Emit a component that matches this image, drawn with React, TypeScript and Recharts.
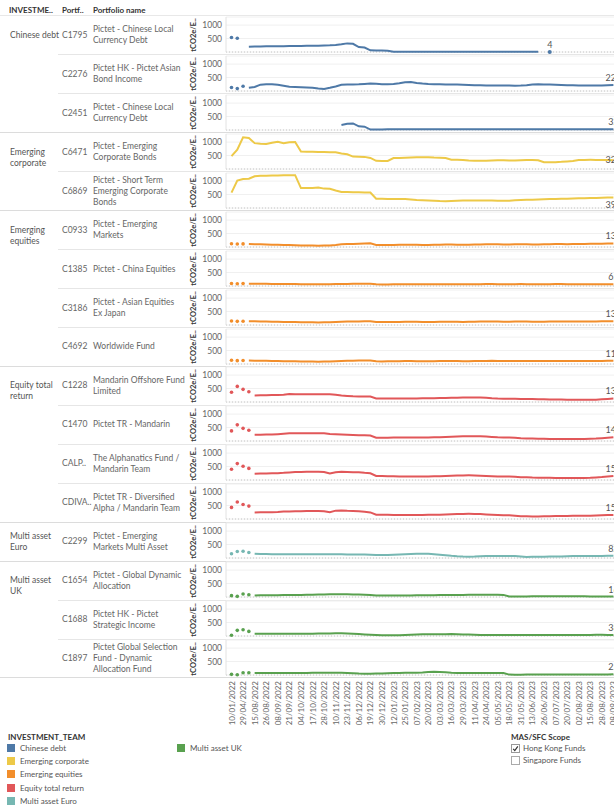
import React from 'react';
import { LineChart, Line, XAxis, YAxis, CartesianGrid, ReferenceLine } from 'recharts';

const tickDates = ['10/01/2022','29/04/2022','15/08/2022','26/08/2022','08/09/2022','21/09/2022','04/10/2022','17/10/2022','28/10/2022','10/11/2022','23/11/2022','06/12/2022','19/12/2022','30/12/2022','12/01/2023','25/01/2023','07/02/2023','20/02/2023','03/03/2023','16/03/2023','29/03/2023','11/04/2023','24/04/2023','05/05/2023','18/05/2023','31/05/2023','13/06/2023','26/06/2023','07/07/2023','20/07/2023','02/08/2023','15/08/2023','28/08/2023','08/09/2023'];
const midDates = ['10/03/2022','22/06/2022','20/08/2022','01/09/2022','14/09/2022','27/09/2022','10/10/2022','21/10/2022','03/11/2022','16/11/2022','29/11/2022','12/12/2022','23/12/2022','05/01/2023','18/01/2023','31/01/2023','13/02/2023','24/02/2023','09/03/2023','22/03/2023','04/04/2023','17/04/2023','28/04/2023','11/05/2023','24/05/2023','06/06/2023','19/06/2023','30/06/2023','13/07/2023','26/07/2023','08/08/2023','21/08/2023','01/09/2023'];

const teams = ['Chinese debt','Emerging corporate','Emerging equities','Equity total return','Multi asset Euro','Multi asset UK'];
const teamHeaders = ['Chinese debt','Emerging\ncorporate','Emerging\nequities','Equity total\nreturn','Multi asset\nEuro','Multi asset\nUK'];
const teamColors = ['#4e79a7','#edc948','#f28e2b','#e15759','#76b7b2','#59a14f'];
const portfolioCodes = ['C1795','C2276','C2451','C6471','C6869','C0933','C1385','C3186','C4692','C1228','C1470','CALP..','CDIVA..','C2299','C1654','C1688','C1897'];
const portfolioNames = [
  'Pictet - Chinese Local\nCurrency Debt',
  'Pictet HK - Pictet Asian\nBond Income',
  'Pictet - Chinese Local\nCurrency Debt',
  'Pictet - Emerging\nCorporate Bonds',
  'Pictet - Short Term\nEmerging Corporate\nBonds',
  'Pictet - Emerging\nMarkets',
  'Pictet - China Equities',
  'Pictet - Asian Equities\nEx Japan',
  'Worldwide Fund',
  'Mandarin Offshore Fund\nLimited',
  'Pictet TR - Mandarin',
  'The Alphanatics Fund /\nMandarin Team',
  'Pictet TR - Diversified\nAlpha / Mandarin Team',
  'Pictet - Emerging\nMarkets Multi Asset',
  'Pictet - Global Dynamic\nAllocation',
  'Pictet HK - Pictet\nStrategic Income',
  'Pictet Global Selection\nFund - Dynamic\nAllocation Fund',
];
const portfolioTeam = [0,0,0,1,1,2,2,2,2,3,3,3,3,4,5,5,5];
const lineStart = [3,3,0,0,0,3,3,3,3,4,4,4,4,4,4,4,4];

const c1795 = [540,510,null,195,205,207,210,212,215,218, 220,222,225,228,232,236,240,248,262,285, 320,305,185,165,62,58,55,50,10,10, 11,10,9,10,11,10,10,9,10,10, 11,10,10,9,10,10,11,10,10,9, 10,10,10,9,null,4,null,null,null,null, null,null,null,null,null,null,null];
const c2276 = [130,90,175,120,150,235,255,250,230,195, 160,150,142,130,118,90,78,120,170,230, 240,245,250,262,275,265,255,250,260,290, 325,335,300,275,262,255,250,246,242,240, 232,225,218,210,202,200,200,202,200,198, 200,210,240,250,245,238,230,225,218,212, 206,202,200,202,206,212,222];
const c2451 = [null,null,null,null,null,null,null,null,null,null, null,null,null,null,null,null,null,null,null,185, 230,245,135,125,15,18,22,30,30,28, 30,31,29,28,30,32,31,30,29,28, 27,28,30,31,30,29,28,27,26,28, 30,31,30,29,28,29,30,31,32,31, 30,31,30,29,30,31,32];
const c6471 = [480,720,1180,1150,960,935,930,975,1010,960, 990,1000,650,640,638,635,630,625,620,575, 545,460,455,450,410,305,300,300,405,412, 420,428,435,440,435,425,420,410,345,340, 330,315,305,305,310,318,325,322,320,320, 325,330,330,325,250,250,255,265,280,295, 335,338,340,338,335,332,328];
const c6869 = [570,1020,1080,1090,1180,1200,1200,1205,1210,1212, 1215,1220,740,740,745,760,720,712,650,595, 590,588,585,580,575,345,340,338,335,335, 330,320,300,290,282,270,258,255,260,268, 275,278,280,280,280,278,272,266,270,285, 300,305,310,318,325,330,335,340,348,352, 358,364,370,376,382,388,392];
const c0933 = [120,110,115,112,105,100,95,88,82,75, 70,62,58,55,52,50,52,55,75,100, 108,112,118,128,135,75,70,72,75,80, 84,86,82,78,76,80,86,90,90,86, 82,86,92,96,100,104,100,96,96,100, 104,100,96,96,100,105,110,110,106,110, 115,116,120,122,125,127,132];
const c1385 = [95,85,90,88,85,82,80,78,76,74, 72,70,68,66,64,62,62,64,70,76, 78,80,82,84,86,62,60,60,62,64, 66,66,64,62,62,64,66,68,68,66, 64,64,66,68,70,70,68,66,66,68, 70,68,66,66,66,68,70,70,68,66, 66,64,64,64,65,65,65];
const c3186 = [150,135,140,138,135,132,128,124,120,116, 112,108,104,100,98,96,98,102,112,122, 126,130,134,138,142,112,108,110,112,116, 120,122,118,114,112,116,120,124,124,120, 116,118,122,126,128,130,126,122,122,126, 128,126,122,122,124,126,130,130,128,130, 132,132,134,134,135,135,136];
const c4692 = [140,125,130,128,125,122,118,114,110,106, 102,98,95,92,90,88,90,94,104,114, 118,122,126,130,134,100,96,98,100,104, 108,110,106,102,100,104,108,112,112,108, 104,106,110,114,116,118,114,110,110,114, 116,114,110,110,112,114,116,116,114,114, 115,115,116,116,116,117,117];
const c1228 = [360,580,470,380,245,248,252,256,262,272, 295,292,290,290,292,290,288,286,272,240, 225,212,205,202,200,130,130,128,128,130, 130,132,134,136,138,140,145,150,156,162, 168,170,170,165,155,140,130,125,120,118, 116,112,108,104,100,96,92,90,88,85, 82,80,82,88,100,115,132];
const c1470 = [375,600,470,400,232,236,240,245,255,268, 285,290,290,290,290,290,288,262,255,240, 228,220,215,210,205,120,122,124,126,128, 130,130,130,130,132,135,140,148,156,165, 172,178,180,175,165,150,135,130,128,118, 100,95,90,85,80,75,72,70,70,70, 72,74,80,90,105,122,142];
const cAlp = [400,610,510,430,232,238,244,250,255,265, 280,295,300,302,305,302,298,245,290,310, 300,292,285,265,250,150,145,140,135,132, 130,130,130,132,134,136,140,148,156,165, 170,172,170,162,150,140,132,130,128,120, 105,98,90,88,85,80,75,72,70,70, 72,75,82,95,110,130,150];
const cDiva = [430,630,540,480,245,248,250,252,260,280, 282,286,290,295,300,300,290,250,310,320, 305,300,290,270,245,160,158,155,152,150, 150,150,150,152,155,158,162,170,178,185, 190,192,190,182,170,158,148,140,138,125, 105,98,95,95,98,102,108,112,115,118, 120,122,125,130,138,145,152];
const c2299 = [160,240,250,205,160,150,145,142,140,138, 136,135,135,135,136,136,135,135,135,135, 134,133,132,128,120,110,108,115,125,132, 140,148,155,160,158,140,120,100,80,65, 55,50,55,65,72,75,75,75,72,70, 55,40,42,48,50,52,55,60,65,70, 72,75,76,78,78,80,82];
const c1654 = [50,25,110,85,60,62,64,66,68,70, 72,74,78,82,86,90,94,98,100,100, 98,95,90,85,75,60,55,55,55,56, 58,60,62,64,66,68,70,72,74,76, 78,80,80,80,80,80,80,78,22,20, 20,22,24,25,26,27,28,28,28,27, 26,25,22,20,18,17,16];
const c1688 = [30,210,230,170,85,85,85,85,86,86, 86,86,86,87,88,90,92,95,100,98, 90,80,70,60,50,40,30,25,25,30, 40,50,60,62,62,64,66,68,70,66, 60,52,45,40,36,35,35,35,35,35, 35,35,35,34,34,34,34,34,34,35, 36,38,40,42,42,40,38];
const c1897 = [25,10,85,85,75,75,76,76,76,76, 76,76,77,78,80,82,84,85,85,82, 75,65,55,50,50,55,60,65,70,75, 80,85,88,95,110,120,115,100,85,78, 75,75,75,75,75,75,75,72,15,12, 12,14,15,16,18,18,20,20,20,20, 20,20,21,22,22,23,25];

const seriesValues: (number | null)[][] = [c1795,c2276,c2451,c6471,c6869,c0933,c1385,c3186,c4692,c1228,c1470,cAlp,cDiva,c2299,c1654,c1688,c1897];
const yTicks = [500, 1000];

// ---- layout ----
const FONT = "Lato, 'Open Sans', sans-serif";
const ROW_TOP = 16;
const ROW_H = 38.94;
const CH_LEFT = 185;
const CH_W = 455;
const AXIS_W = 41;
const PAD = { left: 5.5, right: 26.6 };
const labelDy = [-4,-4,-4,3,11,-4,-4,-4,-4,-4,-4,-4,-4,-4,-4,-4,-4];

const dates: string[] = [];
tickDates.forEach((d, k) => { dates.push(d); if (k < midDates.length) dates.push(midDates[k]); });

const table = dates.map((date, i) => {
  const row: any = { date };
  seriesValues.forEach((vals, s) => {
    const v = vals[i] ?? null;
    row['e' + s] = i < lineStart[s] ? v : null;
    row['s' + s] = i >= lineStart[s] ? v : null;
  });
  return row;
});

const mainVals = seriesValues.map((_, s) => table.map((r) => r['s' + s] as number | null));
const lastIdx = mainVals.map((vals) => { let l = -1; vals.forEach((v, i) => { if (v != null) l = i; }); return l; });

const makeMainDot = (s: number) => (p: any) => {
  const { cx, cy, index } = p;
  const key = `m${s}-${index}`;
  const vals = mainVals[s];
  const v = vals[index];
  if (v == null || cx == null || cy == null) return <g key={key} />;
  const isolated = (index === 0 || vals[index - 1] == null) && (index === vals.length - 1 || vals[index + 1] == null);
  const isLast = index === lastIdx[s];
  return (
    <g key={key}>
      {isolated && <circle cx={cx} cy={cy} r={2} fill={teamColors[portfolioTeam[s]]} />}
      {isLast && (
        <text x={cx} y={cy + labelDy[s]} textAnchor="middle" fontSize={9} fill="#555" fontFamily={FONT}>{v}</text>
      )}
    </g>
  );
};

const makeEarlyDot = (s: number) => (p: any) => {
  const { cx, cy, index } = p;
  const key = `e${s}-${index}`;
  const v = table[index]?.['e' + s];
  if (v == null || cx == null || cy == null) return <g key={key} />;
  return <circle key={key} cx={cx} cy={cy} r={1.8} fill={teamColors[portfolioTeam[s]]} />;
};

const DateTick = (p: any) => {
  const x = p.x;
  const y = p.y + 1;
  return (
    <text x={x} y={y} transform={`rotate(-90 ${x} ${y})`} textAnchor="end" dominantBaseline="central" fontSize={8} fill="#666" fontFamily={FONT}>
      {p.payload.value}
    </text>
  );
};

const groupStarts = teams.map((_, t) => portfolioTeam.indexOf(t));
const groupCounts = teams.map((_, t) => portfolioTeam.filter((x) => x === t).length);

export default function App() {
  const rowTop = (r: number) => ROW_TOP + r * ROW_H;
  return (
    <div style={{ position: 'absolute', left: 0, top: 0, width: 614, height: 811, overflow: 'hidden', background: '#fff', fontFamily: FONT }}>
      {/* header */}
      <div style={{ position: 'absolute', left: 9, top: 5, fontSize: 8, fontWeight: 700, color: '#333', lineHeight: '10px' }}>INVESTME..</div>
      <div style={{ position: 'absolute', left: 62, top: 5, fontSize: 8, fontWeight: 700, color: '#333', lineHeight: '10px' }}>Portf..</div>
      <div style={{ position: 'absolute', left: 93, top: 5, fontSize: 8, fontWeight: 700, color: '#333', lineHeight: '10px' }}>Portfolio name</div>
      <div style={{ position: 'absolute', left: 0, top: 15, width: 614, height: 1, background: '#e8e8e8' }} />

      {/* row separators */}
      {portfolioCodes.map((_, r) => {
        if (r === 0) return null;
        const isGroup = portfolioTeam[r] !== portfolioTeam[r - 1];
        return (
          <div key={'sep' + r} style={{ position: 'absolute', left: isGroup ? 0 : 58, top: rowTop(r) - 0.5, width: 614, height: 1, background: isGroup ? '#dcdcdc' : '#e6e6e6' }} />
        );
      })}
      <div style={{ position: 'absolute', left: 0, top: rowTop(17) - 0.5, width: 614, height: 1, background: '#dcdcdc' }} />

      {/* group headers */}
      {teams.map((t, g) => {
        const lines = teamHeaders[g].split('\n');
        const r0 = groupStarts[g];
        const top = groupCounts[g] === 1 ? rowTop(r0) + ROW_H / 2 - lines.length * 5.5 : rowTop(r0) + ROW_H / 2 - 5.5;
        return (
          <div key={'g' + g} style={{ position: 'absolute', left: 10, top, fontSize: 8.5, color: '#555', lineHeight: '11px', whiteSpace: 'pre' }}>{teamHeaders[g]}</div>
        );
      })}

      {/* codes & names */}
      {portfolioCodes.map((c, r) => {
        const nameLines = portfolioNames[r].split('\n').length;
        const center = rowTop(r) + ROW_H / 2;
        return (
          <React.Fragment key={'c' + r}>
            <div style={{ position: 'absolute', left: 62, top: center - 5.5, fontSize: 8.5, color: '#666', lineHeight: '11px', whiteSpace: 'pre' }}>{c}</div>
            <div style={{ position: 'absolute', left: 93, top: center - nameLines * 5.5, fontSize: 8.5, color: '#666', lineHeight: '11px', whiteSpace: 'pre' }}>{portfolioNames[r]}</div>
            <div style={{ position: 'absolute', left: 174, top: center - 5, width: 40, height: 10, transform: 'rotate(-90deg)', textAlign: 'center', fontSize: 7.5, fontWeight: 700, color: '#333', lineHeight: '10px', whiteSpace: 'nowrap' }}>tCO2e/E..</div>
          </React.Fragment>
        );
      })}

      {/* pane charts */}
      {seriesValues.map((_, s) => {
        const color = teamColors[portfolioTeam[s]];
        return (
          <div key={'ch' + s} style={{ position: 'absolute', left: CH_LEFT, top: rowTop(s), width: CH_W, height: 39 }}>
            <LineChart width={CH_W} height={39} data={table} margin={{ top: 1, right: 0, bottom: 3, left: 0 }}>
              <CartesianGrid vertical={false} stroke="#f0f0f0" />
              <XAxis dataKey="date" scale="point" hide padding={PAD} />
              <YAxis
                domain={[0, 1300]}
                ticks={yTicks}
                width={AXIS_W}
                tickLine={false}
                tickSize={2}
                tickMargin={2}
                axisLine={{ stroke: '#e2e2e2' }}
                tick={{ fontSize: 8.5, fill: '#666', fontFamily: FONT }}
                interval={0}
              />
              <ReferenceLine y={0} stroke="#c6c6c6" strokeDasharray="1 2" />
              <Line dataKey={'e' + s} stroke="none" dot={makeEarlyDot(s)} activeDot={false} isAnimationActive={false} />
              <Line dataKey={'s' + s} stroke={color} strokeWidth={2} dot={makeMainDot(s)} activeDot={false} isAnimationActive={false} />
            </LineChart>
          </div>
        );
      })}

      {/* date axis */}
      <div style={{ position: 'absolute', left: CH_LEFT, top: 678, width: CH_W, height: 60 }}>
        <LineChart width={CH_W} height={60} data={table} margin={{ top: 0, right: 0, bottom: 0, left: AXIS_W }}>
          <XAxis dataKey="date" scale="point" padding={PAD} interval={1} tickLine={false} axisLine={false} tickSize={0} tickMargin={0} height={58} tick={<DateTick />} />
          <YAxis hide domain={[0, 1300]} />
          <Line dataKey="s16" stroke="none" dot={false} activeDot={false} isAnimationActive={false} />
        </LineChart>
      </div>

      {/* legend */}
      <div style={{ position: 'absolute', left: 8, top: 732, fontSize: 8, fontWeight: 700, color: '#333', lineHeight: '10px' }}>INVESTMENT_TEAM</div>
      {teams.map((t, k) => {
        const col = k < 5 ? 0 : 1;
        const rk = k < 5 ? k : k - 5;
        const left = col === 0 ? 7 : 177;
        const top = 744 + rk * 13.2;
        return (
          <div key={'lg' + k} style={{ position: 'absolute', left, top, height: 8, display: 'flex', alignItems: 'center' }}>
            <div style={{ width: 8, height: 8, background: teamColors[k] }} />
            <span style={{ marginLeft: 5, fontSize: 8, color: '#555', lineHeight: '8px', whiteSpace: 'nowrap' }}>{t}</span>
          </div>
        );
      })}

      <div style={{ position: 'absolute', left: 511, top: 732, fontSize: 8, fontWeight: 700, color: '#333', lineHeight: '10px' }}>MAS/SFC Scope</div>
      <div style={{ position: 'absolute', left: 511, top: 744, width: 9, height: 9, border: '1px solid #999', boxSizing: 'border-box', background: '#fff' }}>
        <svg width={7} height={7} style={{ position: 'absolute', left: 0, top: 0 }}>
          <polyline points="1.2,3.8 2.8,5.6 5.8,1.4" fill="none" stroke="#333" strokeWidth={1.2} />
        </svg>
      </div>
      <div style={{ position: 'absolute', left: 523, top: 744, fontSize: 8, color: '#555', lineHeight: '9px' }}>Hong Kong Funds</div>
      <div style={{ position: 'absolute', left: 511, top: 756, width: 9, height: 9, border: '1px solid #aaa', boxSizing: 'border-box', background: '#fff' }} />
      <div style={{ position: 'absolute', left: 523, top: 756, fontSize: 8, color: '#555', lineHeight: '9px' }}>Singapore Funds</div>
    </div>
  );
}
